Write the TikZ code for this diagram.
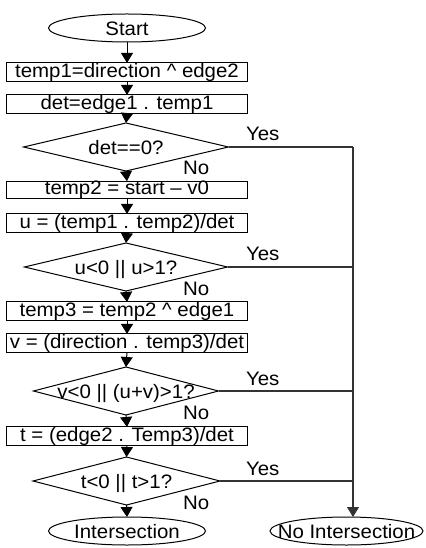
\documentclass[tikz,border=0pt]{standalone}
\usepackage{fontspec}
\setmainfont{Liberation Sans}[FakeStretch=1.05]
\usetikzlibrary{shapes.geometric,arrows.meta}

% centred text that does not size its shape
\newcommand{\ctext}[1]{\makebox[0pt]{\raisebox{-0.36em}[0pt][0pt]{#1}}}

\begin{document}
\begin{tikzpicture}[x=0.75pt,y=-0.75pt,
  every node/.style={font=\fontsize{14.6}{16}\selectfont, inner sep=0pt, outer sep=0pt},
  terminal/.style={draw, ellipse, minimum width=157*0.75pt, minimum height=28*0.75pt, line width=0.75pt},
  process/.style={draw, rectangle, minimum width=241*0.75pt, minimum height=17.5*0.75pt, line width=0.75pt},
  decision/.style={draw, diamond, minimum width=#1*0.75pt, minimum height=48*0.75pt, line width=0.75pt},
  flow/.style={-{Triangle[width=9pt,length=7.5pt]}, line width=0.75pt},
  branch/.style={line width=0.8pt, black!80},
  yeslabel/.style={anchor=base west},
  nolabel/.style={anchor=base west}
]
\useasboundingbox (0,0) rectangle (425,548);

% main column
\node[terminal] (start) at (127,28) {\ctext{Start}};
\node[process] (b1) at (127,72) {temp1=direction \textasciicircum{} edge2};
\node[process] (b2) at (127,104) {det=edge1 . temp1};
\node[decision=205] (d1) at (126,147) {\ctext{det==0?}};
\node[process] (b3) at (127,190) {temp2 = start – v0};
\node[process] (b4) at (127,223) {u = (temp1 . temp2)/det};
\node[decision=203] (d2) at (126,267) {\ctext{u<0 || u>1?}};
\node[process] (b5) at (127,311) {temp3 = temp2 \textasciicircum{} edge1};
\node[process] (b6) at (127,343) {v = (direction . temp3)/det};
\node[decision=185] (d3) at (126,391) {\ctext{v<0 || (u+v)>1?}};
\node[process] (b7) at (127,436) {t = (edge2 . Temp3)/det};
\node[decision=187] (d4) at (126.5,481) {\ctext{t<0 || t>1?}};
\node[terminal] (inter) at (127,531) {\ctext{Intersection}};
\node[terminal, minimum width=153*0.75pt] (nointer) at (346.5,531) {\ctext{No Intersection}};

% downward flow
\draw[flow] (start) -- (b1);
\draw[flow] (b1) -- (b2);
\draw[flow] (b2.south) -- (d1.north);
\draw[flow] (d1.south) -- (b3.north);
\draw[flow] (b3) -- (b4);
\draw[flow] (b4.south) -- (d2.north);
\draw[flow] (d2.south) -- (b5.north);
\draw[flow] (b5) -- (b6);
\draw[flow] (b6.south) -- (d3.north);
\draw[flow] (d3.south) -- (b7.north);
\draw[flow] (b7.south) -- (d4.north);
\draw[flow] (d4.south) -- (inter.north);

% "Yes" branches collected on the right rail
\coordinate (rail) at (353,0);
\draw[branch] (d1.east) -- (d1.east -| rail);
\draw[branch] (d2.east) -- (d2.east -| rail);
\draw[branch] (d3.east) -- (d3.east -| rail);
\draw[branch] (d4.east) -- (d4.east -| rail);
\draw[branch, -{Triangle[width=9pt,length=7.5pt]}] (d1.east -| rail) -- (rail |- nointer.north);

% branch labels
\node[yeslabel] (y1) at (246,141) {Yes};
\node[yeslabel] (y2) at (246,261) {Yes};
\node[yeslabel] (y3) at (246,385) {Yes};
\node[yeslabel] (y4) at (246,475) {Yes};
\node[nolabel] (n1) at (183,175) {No};
\node[nolabel] (n2) at (183,295) {No};
\node[nolabel] (n3) at (183,419) {No};
\node[nolabel] (n4) at (183,509) {No};
\end{tikzpicture}
\end{document}
